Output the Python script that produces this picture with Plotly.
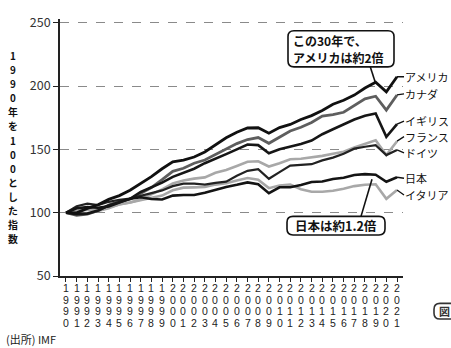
import plotly.graph_objects as go

years = list(range(1990, 2022))

usa = [100, 99.9, 103.4, 106.3, 110.5, 113.5, 117.8, 123.0, 128.5, 134.7, 140.2, 141.6,
       144.0, 148.0, 153.8, 159.2, 163.6, 166.9, 167.1, 162.8, 167.2, 169.7, 173.6, 176.7,
       180.8, 185.7, 188.8, 192.9, 198.5, 203.1, 195.5, 207.4]
canada = [100, 97.9, 98.8, 101.5, 106.0, 108.9, 110.6, 115.4, 119.9, 126.1, 132.7, 135.1,
          139.1, 141.6, 146.0, 150.7, 154.6, 157.8, 159.4, 154.8, 159.6, 164.5, 167.5, 171.3,
          176.3, 177.5, 179.3, 184.7, 189.9, 192.0, 181.0, 193.0]
uk = [100, 98.9, 99.3, 101.8, 105.7, 108.3, 111.0, 116.4, 120.1, 123.7, 128.3, 131.8,
      134.7, 139.1, 142.5, 146.3, 150.0, 153.9, 153.4, 147.0, 150.1, 152.0, 154.2, 157.0,
      162.0, 165.9, 169.6, 173.6, 176.6, 178.4, 160.0, 170.0]
france = [100, 101.0, 102.6, 102.0, 104.3, 106.5, 108.0, 110.5, 114.5, 118.4, 123.0, 125.5,
          126.9, 127.9, 131.5, 133.7, 136.9, 140.2, 140.6, 136.5, 139.1, 142.2, 142.6, 143.5,
          144.9, 146.5, 148.1, 151.5, 154.4, 157.2, 145.5, 156.5]
germany = [100, 105.1, 107.1, 106.0, 108.6, 110.2, 111.1, 113.1, 115.4, 117.6, 121.0, 123.0,
           123.0, 122.2, 123.6, 124.5, 129.2, 133.1, 134.4, 126.8, 132.1, 137.2, 137.8, 138.3,
           141.3, 143.5, 146.6, 150.6, 152.1, 153.4, 145.5, 149.6]
japan = [100, 103.5, 104.4, 103.9, 105.0, 107.8, 111.1, 112.2, 110.8, 110.4, 113.5, 114.0,
         114.0, 115.7, 118.2, 120.3, 122.0, 123.9, 122.4, 115.4, 120.1, 120.1, 121.8, 124.2,
         124.6, 126.6, 127.6, 129.8, 130.5, 130.0, 124.4, 128.0]
italy = [100, 101.5, 102.3, 101.4, 103.6, 106.6, 108.0, 109.9, 111.7, 113.5, 117.7, 119.8,
         120.0, 120.3, 122.2, 123.3, 125.5, 127.4, 126.1, 119.4, 121.4, 122.3, 118.6, 116.5,
         116.5, 117.4, 118.9, 121.0, 122.1, 122.5, 111.0, 118.0]

names = ["アメリカ", "カナダ", "イギリス", "フランス", "ドイツ", "日本", "イタリア"]
series = [usa, canada, uk, france, germany, japan, italy]
colors = ["#111111", "#5e5e5e", "#161616", "#a8a8a8", "#222222", "#141414", "#a8a8a8"]
widths = [2.8, 2.8, 2.6, 2.6, 2.2, 2.6, 2.6]
label_dy = [0, -1, -3, -4.5, 3, 1, 5]

yticks = [50, 100, 150, 200, 250]
ytitle = "1990年を100とした指数"

FONT = "Noto Sans CJK JP, Noto Sans, sans-serif"
DIGIT_FONT = "Liberation Sans, Arial, sans-serif"

# plot-area geometry (pixels)
L, R, T, B = 60, 48, 13, 72
W, H = 451, 348
PW, PH = W - L - R, H - T - B
XR = [1989.44, 2021.56]
YR = [50, 253]


def pp(px, py):
    return (px - L) / PW, (H - B - py) / PH


def px2data(px, py):
    return (XR[0] + (px - L) / PW * (XR[1] - XR[0]),
            YR[0] + (H - B - py) / PH * (YR[1] - YR[0]))


def rounded(px0, py0, px1, py1, r):
    def P(x, y):
        a, b = pp(x, y)
        return f"{a:.5f},{b:.5f}"
    return (f"M {P(px0 + r, py0)} L {P(px1 - r, py0)} Q {P(px1, py0)} {P(px1, py0 + r)} "
            f"L {P(px1, py1 - r)} Q {P(px1, py1)} {P(px1 - r, py1)} "
            f"L {P(px0 + r, py1)} Q {P(px0, py1)} {P(px0, py1 - r)} "
            f"L {P(px0, py0 + r)} Q {P(px0, py0)} {P(px0 + r, py0)} Z")


fig = go.Figure()
order = [3, 6, 1, 4, 5, 2, 0]
for i in order:
    fig.add_trace(go.Scatter(x=years, y=series[i], mode="lines", name=names[i],
                             line=dict(color=colors[i], width=widths[i]),
                             showlegend=False, hoverinfo="skip"))

annotations = []
for i, nm in enumerate(names):
    annotations.append(dict(x=years[-1], y=series[i][-1], xref="x", yref="y",
                            text=nm, showarrow=True, arrowhead=0, arrowwidth=1.3,
                            arrowcolor="#111", ax=7, ay=label_dy[i], xanchor="left",
                            yanchor="middle", borderpad=0,
                            font=dict(family=FONT, size=11, color="#111")))

# x tick labels: year digits stacked vertically
row_y = [288.5, 300.3, 312.1, 323.9]
for yr in years:
    for k, ch in enumerate(str(yr)):
        _, py = pp(0, row_y[k])
        annotations.append(dict(x=yr, y=py, xref="x", yref="paper", text=ch,
                                showarrow=False, xanchor="center", yanchor="middle",
                                borderpad=0,
                                font=dict(family=DIGIT_FONT, size=10.5, color="#222")))

# y axis title (vertical stacked characters)
for k, ch in enumerate(ytitle):
    tx, ty = pp(13, 51 + k * 14.4)
    annotations.append(dict(x=tx, y=ty, xref="paper", yref="paper", showarrow=False,
                            text="<b>" + ch + "</b>", borderpad=0,
                            font=dict(family=FONT, size=9.9, color="#111"),
                            xanchor="center", yanchor="middle"))

# callouts
for txt, py in [("この30年で、", 34.5), ("アメリカは約2倍", 52.5)]:
    cx, cy = pp(292, py)
    annotations.append(dict(x=cx, y=cy, xref="paper", yref="paper", showarrow=False,
                            text="<b>" + txt + "</b>", borderpad=0,
                            font=dict(family=FONT, size=12, color="#111"),
                            xanchor="left", yanchor="middle"))
cx, cy = pp(336, 224.5)
annotations.append(dict(x=cx, y=cy, xref="paper", yref="paper", showarrow=False,
                        text="<b>日本は約1.2倍</b>", borderpad=0,
                        font=dict(family=FONT, size=12.5, color="#111"),
                        xanchor="center", yanchor="middle"))

# source and figure mark
sx, sy = pp(4, 340)
annotations.append(dict(x=sx, y=sy, xref="paper", yref="paper", showarrow=False,
                        text="(出所) IMF", xanchor="left", yanchor="middle",
                        font=dict(family=FONT, size=11, color="#222")))
fx, fy = pp(444, 312)
annotations.append(dict(x=fx, y=fy, xref="paper", yref="paper", showarrow=False,
                        text="<b>図</b>", xanchor="center", yanchor="middle",
                        font=dict(family=FONT, size=11, color="#333")))

us_tail = px2data(370, 61)
jp_tail = px2data(361, 215)
jp_head = px2data(372, 177)

shapes = [
    dict(type="line", xref="x", yref="y", x0=us_tail[0], y0=us_tail[1],
         x1=years[29], y1=usa[29] - 1, line=dict(color="#111", width=1.6)),
    dict(type="line", xref="x", yref="y", x0=jp_tail[0], y0=jp_tail[1],
         x1=jp_head[0], y1=jp_head[1], line=dict(color="#111", width=1.6)),
    dict(type="path", xref="paper", yref="paper", path=rounded(288, 25, 394, 62, 6),
         line=dict(color="#111", width=1.6), fillcolor="white", layer="above"),
    dict(type="path", xref="paper", yref="paper", path=rounded(287, 215, 385, 234, 6),
         line=dict(color="#111", width=1.6), fillcolor="white", layer="above"),
    dict(type="path", xref="paper", yref="paper", path=rounded(434, 304, 460, 320, 6),
         line=dict(color="#333", width=1.6), fillcolor="white", layer="above"),
]

fig.update_layout(
    width=W, height=H,
    margin=dict(l=L, r=R, t=T, b=B, pad=0),
    paper_bgcolor="white", plot_bgcolor="white",
    font=dict(family=FONT, color="#222"),
    annotations=annotations, shapes=shapes,
    xaxis=dict(range=XR, tickmode="array", tickvals=years,
               showticklabels=False, ticks="outside", ticklen=4, tickwidth=1.2,
               tickcolor="#222", showline=True, linecolor="#222", linewidth=1.6,
               showgrid=False, zeroline=False),
    yaxis=dict(range=YR, tickmode="array", tickvals=yticks,
               ticks="outside", ticklen=5, tickwidth=1.2, tickcolor="#222",
               showline=True, linecolor="#222", linewidth=1.6,
               showgrid=True, gridcolor="#8a8a8a", gridwidth=1, griddash="dash",
               zeroline=False, tickfont=dict(family=FONT, size=12.5, color="#333")),
)

fig.write_html("out.html")
